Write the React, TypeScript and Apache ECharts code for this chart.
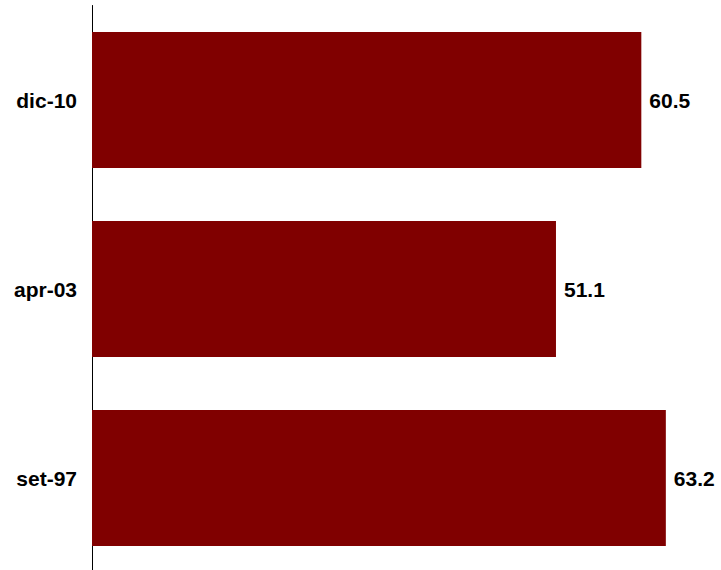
import React, { useEffect, useRef } from "react";
import * as echarts from "echarts";

const categories = ["set-97", "apr-03", "dic-10"];
const values = [63.2, 51.1, 60.5];

export default function App() {
  const ref = useRef<HTMLDivElement>(null);
  useEffect(() => {
    if (!ref.current) return;
    const chart = echarts.init(ref.current, null, { renderer: "svg" });
    chart.setOption({
      animation: false,
      backgroundColor: "#ffffff",
      grid: {
        left: 92,
        top: 5.5,
        width: 626.5,
        height: 567,
        containLabel: false,
        outerBoundsMode: "none",
      },
      xAxis: {
        type: "value",
        min: 0,
        max: 69,
        show: false,
      },
      yAxis: {
        type: "category",
        data: categories,
        axisLine: { show: true, lineStyle: { color: "#000000", width: 1 } },
        axisTick: { show: false },
        splitLine: { show: false },
        axisLabel: {
          margin: 15,
          color: "#000000",
          fontFamily: "Liberation Sans, Arial, sans-serif",
          fontWeight: "bold",
          fontSize: 21,
        },
      },
      series: [
        {
          type: "bar",
          data: values,
          barWidth: "72%",
          itemStyle: { color: "#800000" },
          label: {
            show: true,
            position: "right",
            distance: 8,
            color: "#000000",
            fontFamily: "Liberation Sans, Arial, sans-serif",
            fontWeight: "bold",
            fontSize: 21,
            formatter: (p: any) => p.value.toFixed(1),
          },
        },
      ],
    });
    return () => chart.dispose();
  }, []);
  return (
    <div
      ref={ref}
      style={{ position: "absolute", left: 0, top: 0, width: 721, height: 570 }}
    />
  );
}
